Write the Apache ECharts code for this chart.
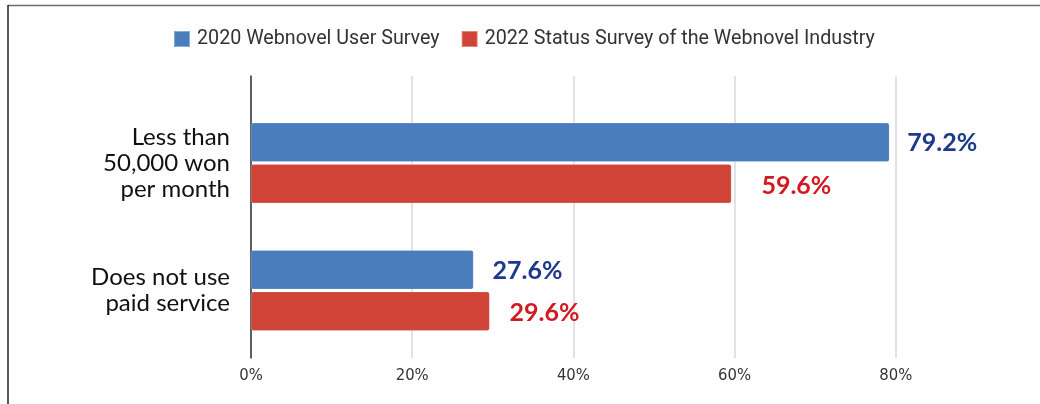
<!DOCTYPE html>
<html><head><meta charset="utf-8">
<script src="https://cdn.jsdelivr.net/npm/echarts@6/dist/echarts.min.js"></script>
<style>html,body{margin:0;padding:0;background:#fff}#c{width:1040px;height:404px}</style>
</head><body><div id="c"></div>
<script>
const categories = ['Less than\n50,000 won\nper month', 'Does not use\npaid service'];
const seriesNames = ['2020 Webnovel User Survey', '2022 Status Survey of the Webnovel Industry'];
const values2020 = [79.2, 27.6];
const values2022 = [59.6, 29.6];
const xTicks = [0, 20, 40, 60, 80, 100];

const labelDist2020 = [18, 19];
const labelDist2022 = [30, 20];

const chart = echarts.init(document.getElementById('c'), null, {renderer: 'canvas'});

function items(vals, dists) {
  return vals.map((v, i) => ({value: v, label: {distance: dists[i]}}));
}

chart.setOption({
  animation: false,
  backgroundColor: '#fff',
  color: ['#4a7dbd', '#d04437'],
  graphic: [
    {type: 'line', shape: {x1: 8, y1: 5.5, x2: 1040, y2: 5.5}, style: {stroke: '#6e6e6e', lineWidth: 1.5}, silent: true},
    {type: 'line', shape: {x1: 8, y1: 5, x2: 8, y2: 404}, style: {stroke: '#222', lineWidth: 1.5}, silent: true}
  ],
  legend: {
    left: 168, top: 24,
    itemWidth: 16, itemHeight: 16, itemGap: 21,
    icon: 'rect',
    textStyle: {fontFamily: 'Roboto', fontSize: 19.7, color: '#333', padding: [0, 0, 0, 2]},
    data: seriesNames
  },
  grid: [
    {left: 251, top: 76, width: 806, height: 282, outerBoundsMode: 'none', containLabel: false},
    {left: 251, top: 99.25, width: 806, height: 255, outerBoundsMode: 'none', containLabel: false}
  ],
  xAxis: [
    {gridIndex: 0, type: 'value', min: xTicks[0], max: xTicks[xTicks.length - 1], interval: 20,
     axisLine: {show: false}, axisTick: {show: false},
     splitLine: {show: true, lineStyle: {color: '#d9d9d9', width: 1.5}},
     axisLabel: {formatter: '{value}%', margin: 9, color: '#333', showMaxLabel: false,
                 fontFamily: '"Liberation Sans Narrow", "DejaVu Sans Condensed", Roboto, sans-serif', fontSize: 16.5}},
    {gridIndex: 1, type: 'value', min: xTicks[0], max: xTicks[xTicks.length - 1], show: false}
  ],
  yAxis: [
    {gridIndex: 0, type: 'category', data: [''],
     axisLine: {show: true, lineStyle: {color: '#333', width: 1.5}},
     axisTick: {show: false}, axisLabel: {show: false}, splitLine: {show: false}},
    {gridIndex: 1, type: 'category', inverse: true, data: categories,
     axisLine: {show: false}, axisTick: {show: false},
     axisLabel: {margin: 21, align: 'right', color: '#111', fontFamily: 'Lato', fontSize: 24, lineHeight: 26}}
  ],
  series: [
    {name: seriesNames[0], type: 'bar', xAxisIndex: 1, yAxisIndex: 1,
     barWidth: 39, barGap: '6%',
     itemStyle: {color: '#4a7dbd', borderRadius: 2, borderColor: 'rgba(255,255,255,0.35)', borderWidth: 0.5},
     label: {show: true, position: 'right', formatter: p => p.value.toFixed(1) + '%', color: '#1b3a8c',
             fontFamily: 'Lato', fontWeight: 'bold', fontSize: 25, offset: [0, 1]},
     data: items(values2020, labelDist2020)},
    {name: seriesNames[1], type: 'bar', xAxisIndex: 1, yAxisIndex: 1,
     barWidth: 39, barGap: '6%',
     itemStyle: {color: '#d04437', borderRadius: 2, borderColor: 'rgba(255,255,255,0.35)', borderWidth: 0.5},
     label: {show: true, position: 'right', formatter: p => p.value.toFixed(1) + '%', color: '#d11a1f',
             fontFamily: 'Lato', fontWeight: 'bold', fontSize: 25, offset: [0, 2]},
     data: items(values2022, labelDist2022)}
  ]
});
</script></body></html>
